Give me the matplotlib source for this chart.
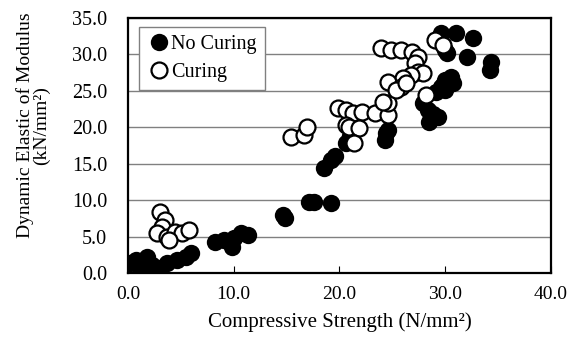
import matplotlib
matplotlib.use("Agg")
import matplotlib.pyplot as plt
from matplotlib.ticker import MultipleLocator, FormatStrFormatter

plt.rcParams["font.family"] = ["Liberation Serif", "DejaVu Serif"]

# Specimens cured without water (solid markers)
no_curing_x = [0.2, 0.8, 1.1, 1.8, 2.3, 2.3, 3.0, 3.7, 4.6, 5.5, 6.0,
               8.2, 9.1, 9.8, 10.0, 10.7, 11.3,
               14.7, 14.8, 17.1, 17.6, 19.2,
               18.5, 19.2, 19.6, 20.6, 21.0,
               24.3, 24.4, 24.6,
               27.9, 28.4, 29.3, 28.5, 28.8, 29.1,
               29.6, 29.8, 30.0, 30.5, 30.0, 30.7, 30.2,
               29.6, 31.0, 32.6, 30.0, 32.1, 34.3, 34.2]
no_curing_y = [1.4, 1.8, 0.7, 2.2, 1.1, 0.4, 0.7, 1.4, 1.8, 2.2, 2.7,
               4.3, 4.5, 3.6, 4.8, 5.5, 5.2,
               8.0, 7.5, 9.7, 9.7, 9.6,
               14.4, 15.5, 16.0, 17.8, 18.8,
               18.2, 19.2, 19.6,
               23.3, 22.4, 21.4, 20.7, 21.8, 24.8,
               25.5, 25.8, 26.5, 26.9, 25.1, 26.1, 30.2,
               32.9, 32.9, 32.2, 30.6, 29.7, 28.9, 27.8]

# Specimens with curing (open markers)
curing_x = [3.0, 3.5, 3.2, 2.7, 3.7, 4.4, 5.1, 5.8, 3.9,
            15.4, 16.6, 16.9,
            19.9, 20.6, 21.3, 22.1, 20.6, 20.9, 21.8, 21.4, 23.4, 24.6, 24.6, 24.1,
            23.9, 24.9, 25.8, 26.9, 27.4, 27.1, 27.4, 27.9, 26.8, 26.0, 24.6,
            25.8, 25.3, 26.3, 28.2, 29.0, 29.8]
curing_y = [8.4, 7.3, 6.3, 5.5, 5.0, 5.6, 5.5, 5.9, 4.5,
            18.7, 18.9, 20.0,
            22.6, 22.4, 21.9, 22.1, 20.3, 20.1, 19.9, 17.9, 21.9, 21.7, 23.3, 23.5,
            30.9, 30.6, 30.6, 30.3, 29.6, 28.8, 27.6, 27.4, 27.2, 26.7, 26.2,
            25.5, 25.1, 26.1, 24.4, 32.0, 31.3]

fig = plt.figure(figsize=(5.7, 3.52), dpi=100)
ax = fig.add_axes([0.2246, 0.2244, 0.742, 0.7246])

ax.plot(no_curing_x, no_curing_y, "o", color="black", markersize=12.5,
        markeredgewidth=0, label="No Curing", zorder=3)
ax.plot(curing_x, curing_y, "o", markerfacecolor="white",
        markeredgecolor="black", markersize=11.5, markeredgewidth=1.6,
        label="Curing", zorder=4)

ax.set_xlim(0, 40)
ax.set_ylim(0, 35)
ax.xaxis.set_major_locator(MultipleLocator(10))
ax.yaxis.set_major_locator(MultipleLocator(5))
ax.xaxis.set_major_formatter(FormatStrFormatter("%.1f"))
ax.yaxis.set_major_formatter(FormatStrFormatter("%.1f"))
ax.tick_params(axis="x", direction="in", length=5, width=0.8,
               labelsize=14, pad=9)
ax.tick_params(axis="y", length=0, labelsize=14.5, pad=15)
ax.grid(axis="y", color="#808080", linewidth=1.0)
ax.set_axisbelow(True)
for s in ax.spines.values():
    s.set_linewidth(1.6)

ax.set_xlabel("Compressive Strength (N/mm²)", fontsize=15, labelpad=7)
ax.set_ylabel("Dynamic Elastic of Modulus\n(kN/mm²)", fontsize=14,
              linespacing=0.95)
ax.yaxis.set_label_coords(-0.183, 0.58)

leg = ax.legend(loc="upper left", bbox_to_anchor=(0.026, 0.965),
                fontsize=14.5, frameon=True, fancybox=False,
                edgecolor="#808080", framealpha=1, handletextpad=0.0,
                handlelength=1.2, borderpad=0.4, labelspacing=0.45,
                borderaxespad=0)
leg.get_frame().set_linewidth(1.0)

fig.savefig("out.png", dpi=100, facecolor="white")
